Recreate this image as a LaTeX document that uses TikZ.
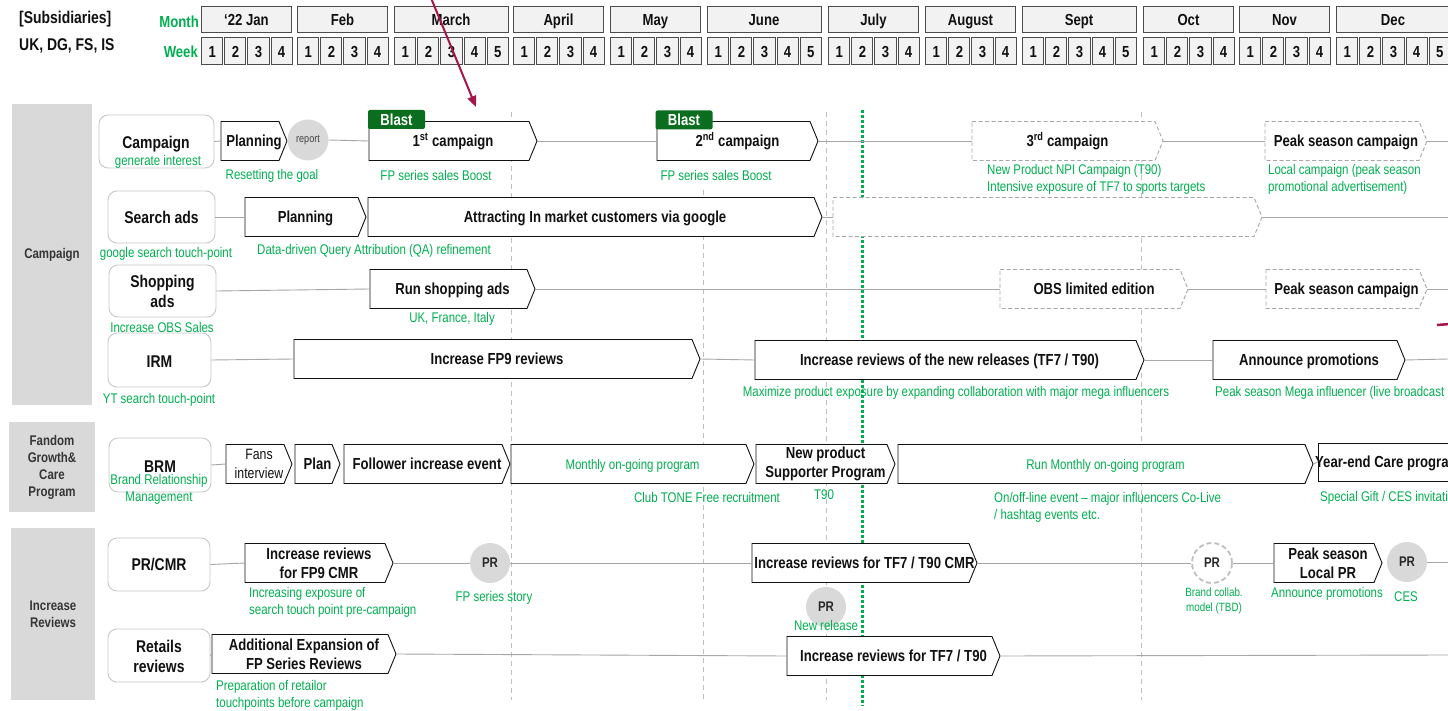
\documentclass[tikz,border=0pt]{standalone}
\usepackage{fontspec}
\setmainfont{Liberation Sans}[FakeStretch=0.82]
\usetikzlibrary{arrows.meta}
\definecolor{grn}{HTML}{00B050}
\definecolor{dkg}{HTML}{0A6E1E}
\definecolor{bandc}{HTML}{D9D9D9}
\definecolor{lgc}{HTML}{F2F2F2}
\definecolor{linc}{HTML}{A6A6A6}
\definecolor{vlc}{HTML}{BFBFBF}
\definecolor{redc}{HTML}{A3174C}
\definecolor{txc}{HTML}{111111}
\definecolor{lbc}{HTML}{C8C8C8}
\newcommand\fsz[2]{\fontsize{#1}{#2}\selectfont}
\newcommand\chv[6][chp]{%
  \path[#1] (#3,#5-19.5) -- (#4-8,#5-19.5) -- (#4,#5) -- (#4-8,#5+19.5) -- (#3,#5+19.5) -- cycle;
  \node[cht,minimum width=#4pt-#3pt] (#2) at ({(#3+#4)/2},#5) {#6};}
\newcommand\chvm[6][chp]{%
  \path[#1] (#3,#5-19.5) -- (#4-8,#5-19.5) -- (#4,#5) -- (#4-8,#5+19.5) -- (#3,#5+19.5) -- cycle;
  \node[chtm,minimum width=#4pt-#3pt] (#2) at ({(#3+#4)/2},#5) {#6};}
\begin{document}
\begin{tikzpicture}[x=1pt,y=-1pt,
  chp/.style={draw=txc,line width=0.9pt,fill=white},
  chd/.style={draw=linc,line width=0.9pt,fill=white,dash pattern=on 4pt off 2.5pt},
  cht/.style={inner sep=0pt,minimum height=39pt,text height=11.5pt,text depth=0pt,font=\bfseries\fsz{16}{18},text=txc},
  chtm/.style={inner sep=0pt,minimum height=39pt,align=center,font=\bfseries\fsz{16}{19},text=txc},
  gt/.style={inner sep=0pt,text=grn,font=\fsz{14}{17},text height=10pt,text depth=0pt},
  gtm/.style={inner sep=0pt,text=grn,font=\fsz{14}{17},align=left},
  lbl/.style={draw=lbc,line width=0.9pt,rounded corners=9pt,fill=white,inner sep=0pt},
  lt/.style={inner sep=0pt,font=\bfseries\fsz{17}{20},text=txc,text height=12.3pt,text depth=0pt},
  ltm/.style={inner sep=0pt,font=\bfseries\fsz{17}{20},text=txc,align=center},
  bandst/.style={fill=bandc,inner sep=0pt,font=\bfseries\fsz{14}{17},text=txc!85,align=center},
  conn/.style={draw=linc,line width=0.9pt},
  vdash/.style={draw=vlc,line width=0.8pt,dash pattern=on 5pt off 4pt},
  gdot/.style={draw=grn,line width=3pt,dash pattern=on 2.6pt off 2.4pt},
  prc/.style={circle,fill=bandc,minimum size=40pt,inner sep=0pt,font=\bfseries\fsz{14}{16},text=txc!90},
  prcd/.style={circle,draw=vlc,fill=white,line width=1.8pt,dash pattern=on 5pt off 3pt,minimum size=40pt,inner sep=0pt,font=\bfseries\fsz{14}{16},text=txc!90},
  blast/.style={fill=dkg,rounded corners=2pt,minimum width=57pt,minimum height=19pt,inner sep=0pt,text=white,font=\bfseries\fsz{16}{18},text height=11.5pt,text depth=0pt},
  monthbox/.style={draw=black!70,fill=lgc,line width=1pt,minimum height=26pt,inner sep=0pt,font=\bfseries\fsz{16}{18},text=txc,text height=11.5pt,text depth=0pt},
  weekbox/.style={draw=black!70,fill=lgc,line width=1pt,minimum width=21.1pt,minimum height=27pt,inner sep=0pt,font=\bfseries\fsz{16}{18},text=txc,text height=11.5pt,text depth=0pt},
  hdr/.style={inner sep=0pt,font=\bfseries\fsz{17}{20},text=txc,text height=12.3pt,text depth=0pt,anchor=west},
  ghdr/.style={inner sep=0pt,font=\bfseries\fsz{16}{18},text=grn,text height=11.5pt,text depth=0pt,anchor=east}
]
\useasboundingbox (0,0) rectangle (1448,711);
\clip (0,0) rectangle (1448,711);
\fill[white] (0,0) rectangle (1448,711);

% header
\node[hdr] (sub) at (19,17) {[Subsidiaries]};
\node[hdr] (ukdg) at (19,44) {UK, DG, FS, IS};
\node[ghdr] (monthl) at (199,22) {Month};
\node[ghdr] (weekl) at (198,52) {Week};
\foreach \nm/\xx/\n/\i in {{‘22 Jan}/201/4/1,Feb/297/4/2,March/394/5/3,April/513/4/4,May/610/4/5,June/707/5/6,July/828/4/7,August/925/4/8,Sept/1022/5/9,Oct/1143/4/10,Nov/1239/4/11,Dec/1336/5/12}{
  \node[monthbox,minimum width=\n*23.1pt-1.5pt] (m\i) at ({\xx+\n*11.55-0.75},20) {\nm};
  \foreach \k in {1,...,\n}{
    \node[weekbox] (w\i-\k) at ({\xx+(\k-1)*23.1+11.3},51.5) {\k};
  }
}

% category bands
\node[bandst,minimum width=80pt,minimum height=301pt] (bcamp) at (52,254.5) {Campaign};
\node[bandst,minimum width=86pt,minimum height=90pt] (bfan) at (52,467) {Fandom\\Growth\&\\Care\\Program};
\node[bandst,minimum width=84pt,minimum height=172pt] (brev) at (53,614) {Increase\\Reviews};

% vertical guides
\draw[vdash] (511,112) -- (511,700);
\draw[vdash] (703,190) -- (703,700);
\draw[vdash] (826,112) -- (826,700);
\draw[vdash] (1141,112) -- (1141,700);
\draw[gdot] (862,110) -- (862,706);

% row label boxes
\node[lbl,minimum width=115pt,minimum height=53pt] (campL) at (156.5,141.5) {};
\node[lbl,minimum width=107pt,minimum height=52pt] (searchL) at (161.5,217) {};
\node[lbl,minimum width=107pt,minimum height=52pt] (shopL) at (162.5,291) {};
\node[lbl,minimum width=103pt,minimum height=54pt] (irmL) at (159.5,360) {};
\node[lbl,minimum width=102pt,minimum height=54pt] (brmL) at (160,465) {};
\node[lbl,minimum width=102pt,minimum height=53pt] (prL) at (159,564.5) {};
\node[lbl,minimum width=102pt,minimum height=53pt] (retL) at (159,655.5) {};
\node[lt] (campLt) at (156,142) {Campaign};
\node[gt] (campLg) at (158,161) {generate interest};
\node[lt] (searchLt) at (161.5,217) {Search ads};
\node[gt] (searchLg) at (166,253) {google search touch-point};
\node[ltm] (shopLt) at (162.5,291) {Shopping\\ads};
\node[gt] (shopLg) at (162,327) {Increase OBS Sales};
\node[lt] (irmLt) at (159.5,361) {IRM};
\node[gt] (irmLg) at (159,398) {YT search touch-point};
\node[lt] (brmLt) at (160,466) {BRM};
\node[gtm,align=center] (brmLg) at (159,489.5) {Brand Relationship\\Management};
\node[lt] (prLt) at (159,564) {PR/CMR};
\node[ltm] (retLt) at (159,656.5) {Retails\\reviews};
\node[gtm,anchor=west] (retLg) at (216,695.5) {Preparation of retailor\\touchpoints before campaign};

% campaign row
\chv{plan1}{221}{287}{141}{Planning}
\node[circle,fill=bandc,minimum size=41pt,inner sep=0pt,font=\fsz{11}{13},text=black!75] (rep) at (308,140) {report};
\chv{c1}{369}{537}{141}{1\textsuperscript{st} campaign}
\node[blast] (bl1) at (396.5,119.5) {Blast};
\chv{c2}{657}{818}{141}{2\textsuperscript{nd} campaign}
\node[blast] (bl2) at (684,120) {Blast};
\chv[chd]{c3}{972}{1163}{141}{3\textsuperscript{rd} campaign}
\chv[chd]{pk1}{1265}{1427}{141}{Peak season campaign}
\coordinate (e1) at (1448,141);

% search ads row
\chv{plan2}{245}{366}{217}{Planning}
\chv{attr}{368}{822}{217}{Attracting In market customers via google}
\chv[chd]{sdash}{833}{1262}{217}{}
\coordinate (e2) at (1448,217);

% shopping row
\chv{runs}{370}{535}{289}{Run shopping ads}
\chv[chd]{obs}{1000}{1188}{289}{OBS limited edition}
\chv[chd]{pk2}{1266}{1427}{289}{Peak season campaign}
\coordinate (e3) at (1448,289);

% IRM row
\chv{fp9}{294}{700}{359}{Increase FP9 reviews}
\chv{newrel}{755}{1144}{360}{Increase reviews of the new releases (TF7 / T90)}
\chv{ann}{1213}{1405}{360}{Announce promotions}
\coordinate (e4) at (1448,359);

% BRM row
\chvm{fans}{226}{292}{464}{\mdseries\fsz{15}{17}Fans\\\mdseries\fsz{15}{17}interview}
\chv{planb}{295}{340}{464}{Plan}
\chv{follow}{344}{510}{464}{Follower increase event}
\chv{monthly}{511}{754}{464}{\mdseries\fsz{14}{17}\color{grn}Monthly on-going program}
\chvm{newprod}{756}{895}{464}{New product\\Supporter Program}
\chv{runm}{898}{1313}{464}{\mdseries\fsz{14}{17}\color{grn}Run Monthly on-going program}
\node[draw=txc,line width=0.9pt,fill=white,minimum width=150pt,minimum height=38pt,anchor=west,inner sep=0pt] (yearend) at (1318,462) {};
\node[cht,anchor=west] (yetxt) at (1315,462) {Year-end Care program};

% PR/CMR row
\chvm{ir1}{245}{393}{563}{Increase reviews\\for FP9 CMR}
\node[prc] (pr1) at (490,563) {PR};
\chv{tcmr}{752}{977}{563}{Increase reviews for TF7 / T90 CMR}
\node[prcd] (prd) at (1212,563) {PR};
\chvm{pkpr}{1274}{1382}{563}{Peak season\\Local PR}
\node[prc] (pr3) at (1407,562) {PR};
\node[prc] (pr2) at (826,607) {PR};
\coordinate (e6) at (1448,562);

% retail row
\chvm{addx}{212}{396}{654}{Additional Expansion of\\FP Series Reviews}
\chv{tf7}{787}{1000}{656}{Increase reviews for TF7 / T90}
\coordinate (e7) at (1448,655);

% connectors
\draw[conn] (campL.east) -- (plan1.west);
\draw[conn] (rep.east) -- (c1.west);
\draw[conn] (c1.east) -- (c2.west);
\draw[conn] (c2.east) -- (c3.west);
\draw[conn] (c3.east) -- (pk1.west);
\draw[conn] (pk1.east) -- (e1);
\draw[conn] (searchL.east) -- (plan2.west);
\draw[conn] (attr.east) -- (sdash.west);
\draw[conn] (sdash.east) -- (e2);
\draw[conn] (shopL.east) -- (runs.west);
\draw[conn] (runs.east) -- (obs.west);
\draw[conn] (obs.east) -- (pk2.west);
\draw[conn] (pk2.east) -- (e3);
\draw[conn] (irmL.east) -- (fp9.west);
\draw[conn] (fp9.east) -- (newrel.west);
\draw[conn] (newrel.east) -- (ann.west);
\draw[conn] (ann.east) -- (e4);
\draw[conn] (brmL.east) -- (fans.west);
\draw[conn] (runm.east) -- (yearend.west);
\draw[conn] (prL.east) -- (ir1.west);
\draw[conn] (ir1.east) -- (pr1.west);
\draw[conn] (pr1.east) -- (tcmr.west);
\draw[conn] (tcmr.east) -- (prd.west);
\draw[conn] (prd.east) -- (pkpr.west);
\draw[conn] (pr3.east) -- (e6);
\draw[conn] (retL.east) -- (addx.west);
\draw[conn] (addx.east) -- (tf7.west);
\draw[conn] (tf7.east) -- (e7);

% green captions
\node[gt] (g1) at (272,175) {Resetting the goal};
\node[gt] (g2) at (436,176) {FP series sales Boost};
\node[gt] (g3) at (716,176) {FP series sales Boost};
\node[gtm,anchor=west] (g4) at (987,179.5) {New Product NPI Campaign (T90)\\Intensive exposure of TF7 to sports targets};
\node[gtm,anchor=west] (g5) at (1268,179.5) {Local campaign (peak season\\promotional advertisement)};
\node[gt] (g6) at (374,250) {Data-driven Query Attribution (QA) refinement};
\node[gt] (g7) at (452,318) {UK, France, Italy};
\node[gt] (g8) at (956,391) {Maximize product exposure by expanding collaboration with major mega influencers};
\node[gt,anchor=west] (g9) at (1215,391) {Peak season Mega influencer (live broadcast};
\node[gt] (g10) at (707,497) {Club TONE Free recruitment};
\node[gt] (g11) at (824,494) {T90};
\node[gtm,anchor=west] (g12) at (994,507) {On/off-line event – major influencers Co-Live\\/ hashtag events etc.};
\node[gt,anchor=west] (g13) at (1320,496) {Special Gift / CES invitation};
\node[gtm,anchor=west] (g14) at (249,602) {Increasing exposure of\\search touch point pre-campaign};
\node[gt] (g15) at (494,596) {FP series story};
\node[gt] (g16) at (826,625) {New release};
\node[gtm,align=center,font=\fsz{12}{15}] (g17) at (1214,600.5) {Brand collab.\\model (TBD)};
\node[gt] (g18) at (1327,592) {Announce promotions};
\node[gt] (g19) at (1406,596) {CES};

% red pointers
\coordinate (ra1) at (431,-2);
\coordinate (ra2) at (476,107);
\draw[redc,line width=2pt,-{Triangle[length=11pt,width=9pt]}] (ra1) -- (ra2);
\coordinate (rb1) at (1437,325);
\coordinate (rb2) at (1450,324);
\draw[redc,line width=2.5pt] (rb1) -- (rb2);
\end{tikzpicture}
\end{document}
